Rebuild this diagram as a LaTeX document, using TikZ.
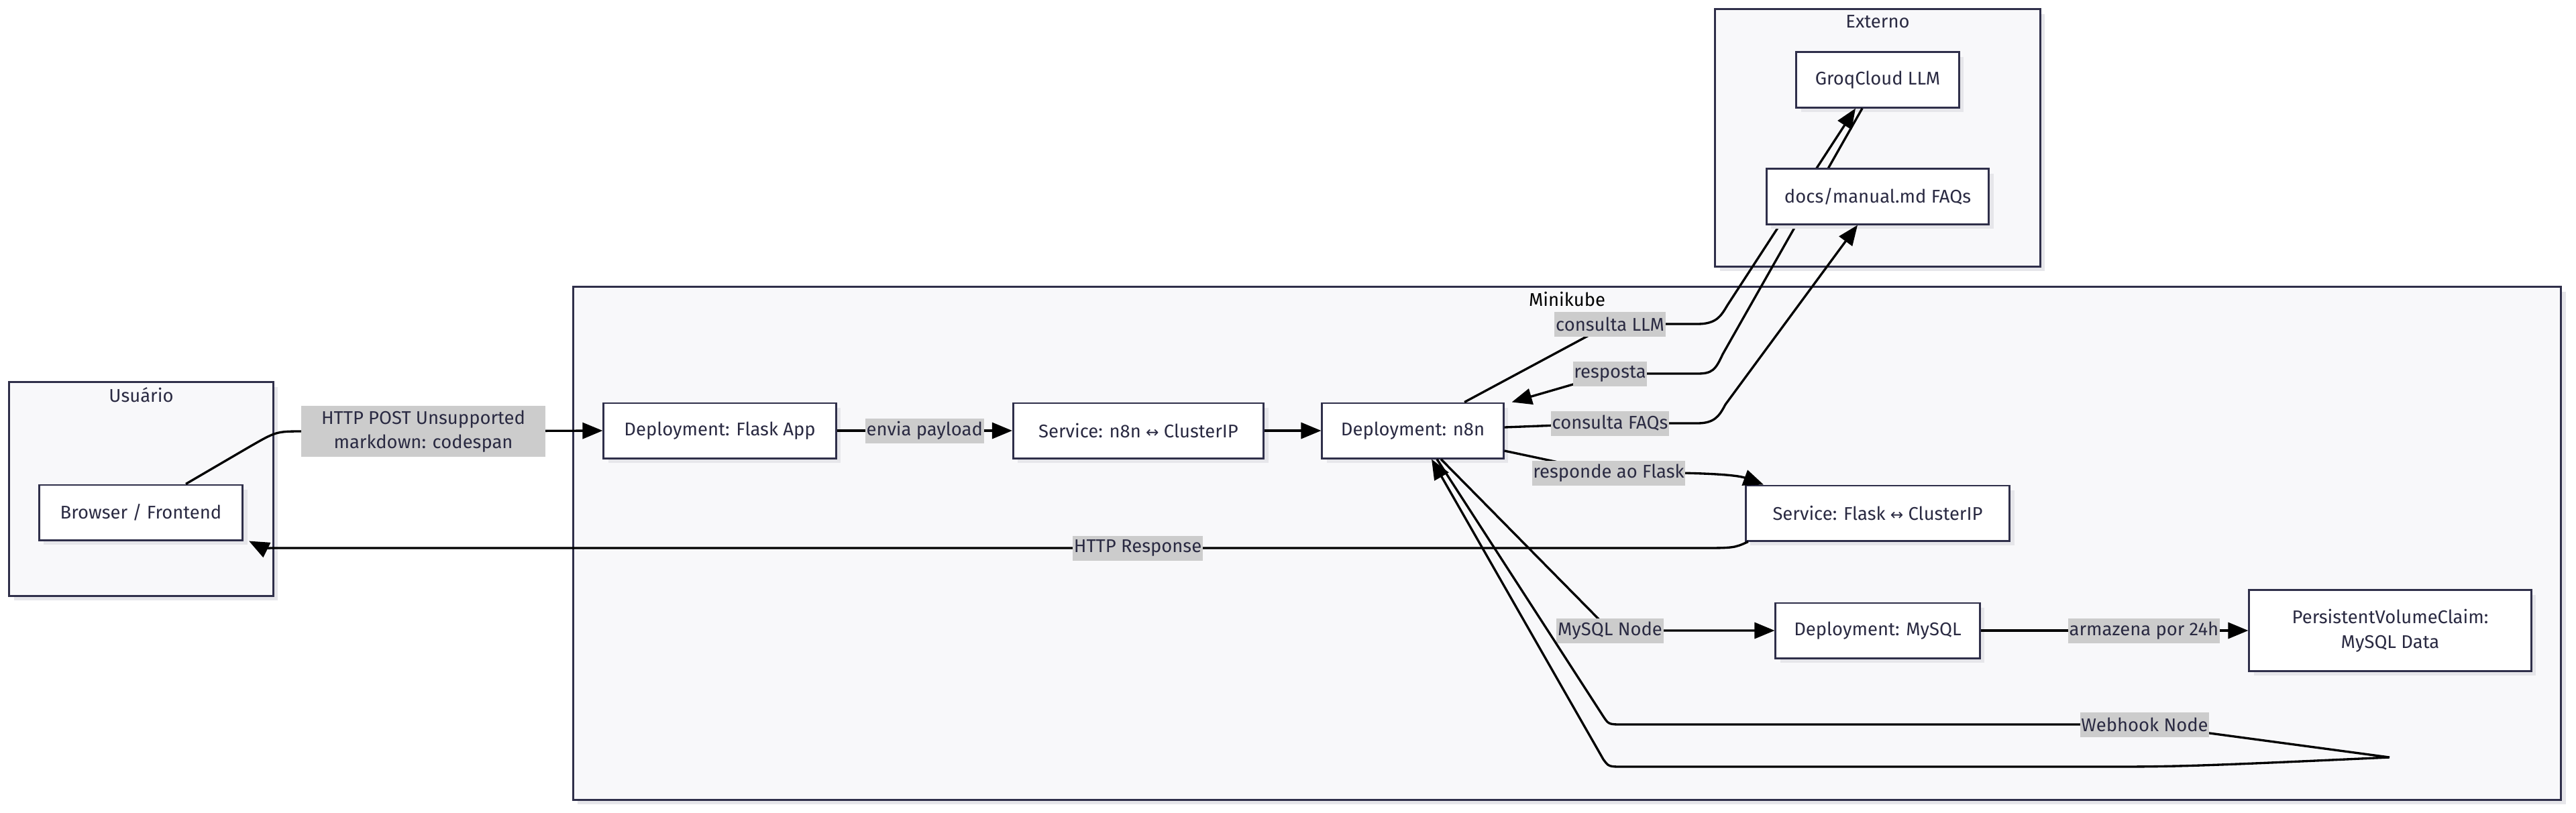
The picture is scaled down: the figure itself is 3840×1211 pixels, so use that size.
\documentclass[tikz,border=0pt]{standalone}
\usepackage{fontspec}
\setmainfont{Fira Sans}
\newfontfamily\arrowfont{DejaVu Sans}
\usepackage{tikz}
\usetikzlibrary{arrows.meta,shadows}
\usepackage{xcolor}
\definecolor{clusterbg}{HTML}{F8F8FA}
\definecolor{clusterline}{HTML}{2F2F4A}
\definecolor{boxtext}{HTML}{2A2A42}
\definecolor{labelgray}{HTML}{CCCCCC}
\definecolor{shadowgray}{HTML}{E6E6EA}
\newcommand{\lra}{{\arrowfont\fontsize{6.6}{7}\selectfont ↔}}
\newcommand{\diagfont}{\fontsize{7.8}{10.4}\selectfont}

\begin{document}
\begin{tikzpicture}[x=0.01cm, y=-0.01cm, font=\diagfont,
    cluster/.style={draw=clusterline, fill=clusterbg, line width=0.85pt,
        drop shadow={shadow xshift=0.07cm, shadow yshift=-0.07cm, fill=shadowgray, opacity=1}},
    box/.style={draw=clusterline, fill=white, line width=0.85pt, text=boxtext,
        minimum height=0.82cm, inner sep=0pt, align=center,
        drop shadow={shadow xshift=0.07cm, shadow yshift=-0.07cm, fill=shadowgray, opacity=1}},
    flow/.style={line width=0.95pt, -{Triangle[length=0.3cm, width=0.24cm]}},
    lbl/.style={fill=labelgray, text=boxtext, inner xsep=0.5pt, inner ysep=0pt, minimum height=0.37cm},
    title/.style={text=boxtext}]
    \useasboundingbox (0,0) rectangle (3840,1211);

    % Clusters
    \node[cluster, minimum width=3.93cm, minimum height=3.18cm] (usuario) at (210.5,729) {};
    \node[cluster, minimum width=29.62cm, minimum height=7.64cm] (minikube) at (2336,810) {};
    \node[cluster, minimum width=4.84cm, minimum height=3.83cm] (externo) at (2799,205.5) {};
    \node[title] (usuarioT) at ([yshift=-0.2cm]usuario.north) {Usuário};
    \node[title, text=black] (minikubeT) at ([yshift=-0.2cm]minikube.north) {Minikube};
    \node[title] (externoT) at ([yshift=-0.2cm]externo.north) {Externo};

    % Services and deployments
    \foreach \nm/\x/\y/\w/\txt in {browser/210/764/3.03/{Browser / Frontend},
        flask/1073/642/3.46/{Deployment: Flask App},
        svcn8n/1697/642/3.73/{Service: n8n \lra{} ClusterIP},
        n8n/2106/642/2.70/{Deployment: n8n},
        groq/2799/119/2.42/{GroqCloud LLM},
        svcflask/2799/765/3.93/{Service: Flask \lra{} ClusterIP},
        mysql/2799/940/3.04/{Deployment: MySQL}} {
        \node[box, minimum width=\w cm] (\nm) at (\x,\y) {\txt};
    }
    \node[box, minimum width=4.20cm, minimum height=1.20cm] (pvc) at (3563,940)
        {PersistentVolumeClaim:\\MySQL Data};

    % n8n <-> LLM (these run behind the FAQ box)
    \draw[flow] ([xshift=0.77cm]n8n.north) -- (2400,483) node[lbl] {consulta LLM}
        -- (2530,483) .. controls (2558,483) and (2565,472) .. (2575,455)
        -- ([xshift=-0.33cm]groq.south);
    \draw[flow] ([xshift=-0.23cm]groq.south) -- (2568,528)
        .. controls (2557,552) and (2552,557) .. (2530,557)
        -- (2400,557) node[lbl] {resposta} -- ([xshift=0.11cm]n8n.north east);

    \node[box, minimum width=3.31cm] (docs) at (2799,293) {docs/manual.md FAQs};

    % Request path
    \draw[flow] ([xshift=0.67cm]browser.north) -- (372,666) .. controls (412,643) .. (452,643)
        -- (631,643) node[lbl, inner xsep=0.3cm, minimum height=0.75cm, align=center]
            {HTTP POST Unsupported\\markdown: codespan}
        -- (flask.west);
    \draw[flow] (flask) -- node[lbl] {envia payload} (svcn8n);
    \draw[flow] (svcn8n) -- (n8n);

    % n8n -> FAQs
    \draw[flow] ([yshift=0.05cm]n8n.east) -- (2400,631) node[lbl] {consulta FAQs}
        -- (2530,631) .. controls (2556,631) and (2563,620) .. (2572,603)
        -- ([xshift=-0.3cm]docs.south);

    % Response path
    \draw[flow] ([yshift=-0.3cm]n8n.east) -- (2398,705) node[lbl] {responde ao Flask}
        .. controls (2565,703) and (2595,710) .. ([xshift=-1.7cm]svcflask.north);
    \draw[flow] ([xshift=0.05cm]svcflask.south west) .. controls (2585,817) .. (2530,817)
        -- (1696,817) node[lbl] {HTTP Response}
        -- (420,817) .. controls (392,817) .. ([xshift=0.08cm]browser.south east);

    % Storage
    \draw[flow] ([xshift=0.42cm]n8n.south) -- (2400,940) node[lbl] {MySQL Node} -- (mysql.west);
    \draw[flow] (mysql) -- node[lbl, pos=0.61] {armazena por 24h} (pvc);

    % Webhook loop
    \draw[flow] ([xshift=0.36cm]n8n.south) -- (2390,1068) .. controls (2398,1080) .. (2420,1080)
        -- (3197,1080) node[lbl] {Webhook Node}
        -- (3562,1129) .. controls (3300,1141) and (3250,1143) .. (3150,1143)
        -- (2420,1143) .. controls (2398,1143) .. (2390,1132)
        -- ([xshift=0.28cm]n8n.south);
\end{tikzpicture}
\end{document}
